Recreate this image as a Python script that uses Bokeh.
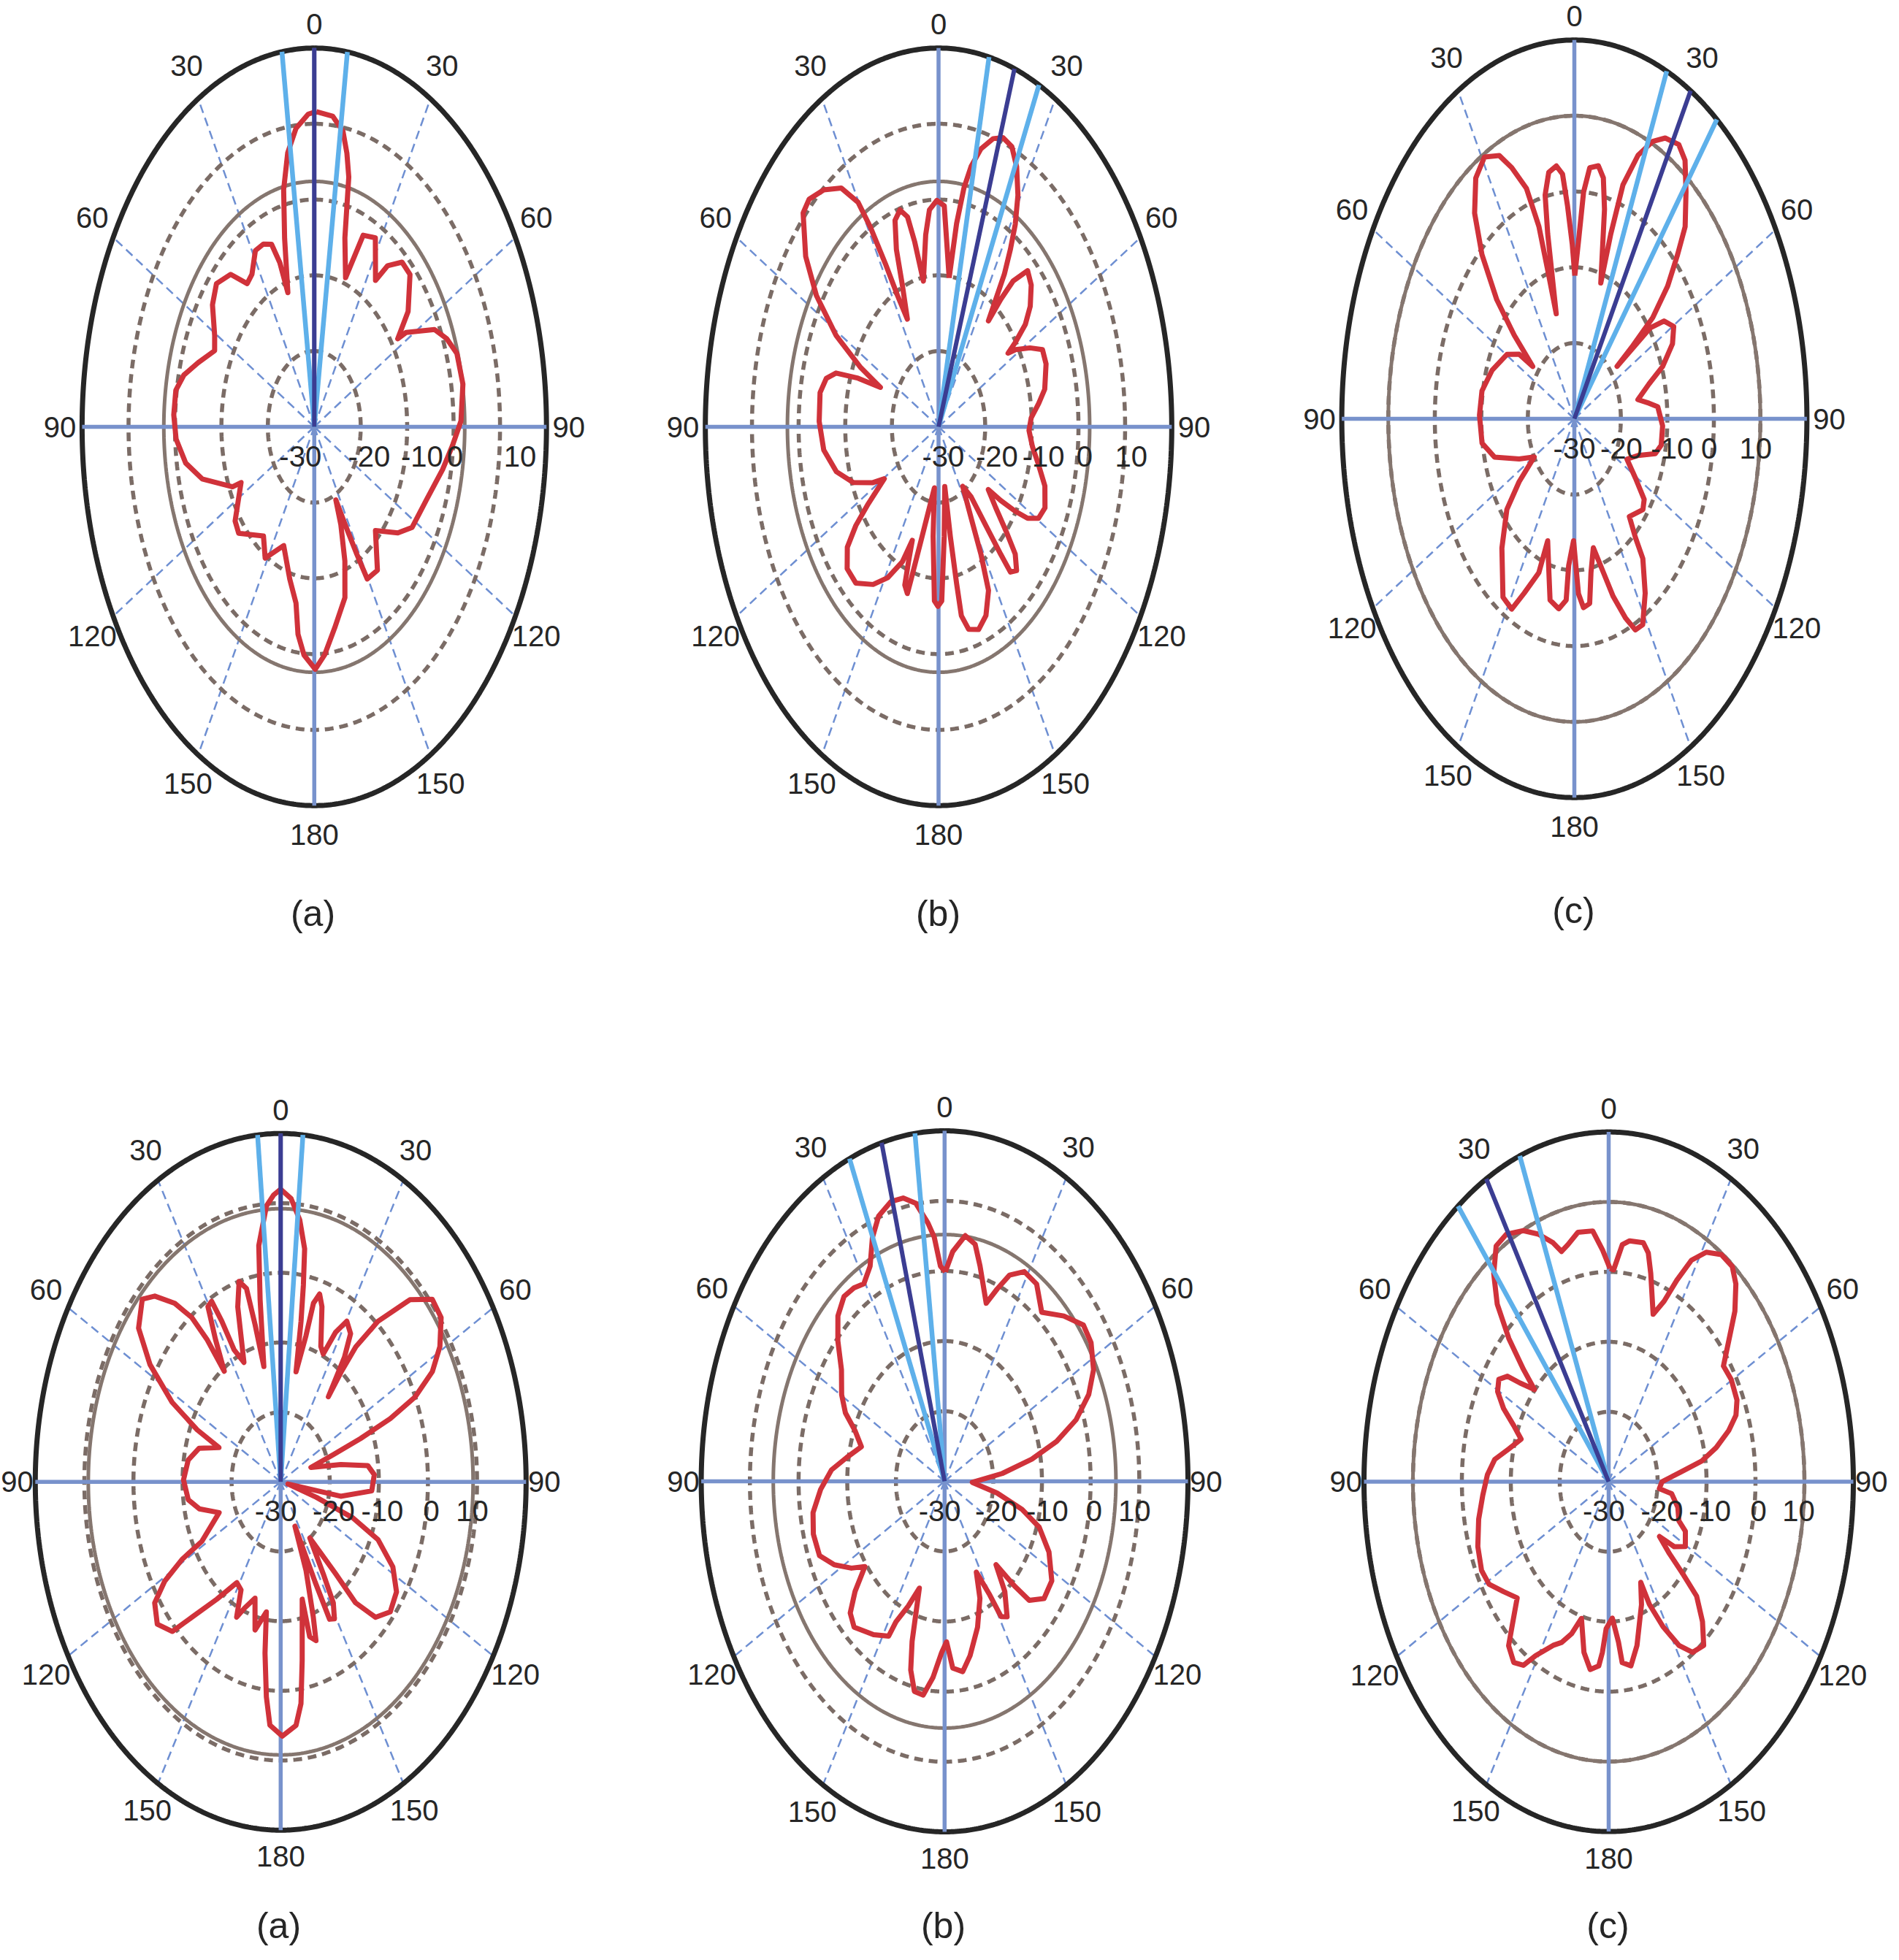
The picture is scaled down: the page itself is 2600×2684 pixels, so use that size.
import numpy as np
from bokeh.plotting import figure
from bokeh.layouts import column, row
from bokeh.models import Range1d
from bokeh.embed import file_html
from bokeh.resources import INLINE
from bokeh.core.properties import value

# ---------------- data (angle in degrees clockwise from top, level in dB) ----------------
a1_theta = [0.6, 5.5, 9.0, 11.0, 12.7, 13.6, 14.8, 18.9, 22.6, 27.8, 34.3, 36.6, 41.0, 45.7, 53.0, 57.1,
            57.8, 63.6, 67.8, 72.5, 80.0, 88.6, 94.6, 101.5, 111.8, 122.2, 127.9, 136.1, 144.3, 150.4,
            151.4, 152.8, 154.3, 156.1, 159.6, 163.7, 170.6, 175.8, 179.6, 184.2, 187.3, 189.6, 194.7,
            202.8, 211.4, 217.2, 229.2, 233.9, 245.0, 245.8, 254.1, 260.2, 266.9, 273.0, 279.2, 283.7,
            288.7, 295.1, 299.3, 306.3, 311.9, 318.2, 322.6, 326.3, 331.4, 335.6, 339.1, 341.1, 342.2,
            345.6, 348.1, 351.0, 354.3, 358.2]
a1_db = [11.6, 11.2, 9.5, 6.8, 3.8, -0.2, -4.2, -9.2, -2.6, -1.8, -6.6, -3.5, -1.2, -1.2, -4.7, -8.6,
         -6.6, -1.1, 0.8, 2.2, 2.5, 1.6, -0.1, -1.8, -4.0, -5.1, -7.2, -11.0, -6.7, -6.9,
         -10.8, -15.6, -19.3, -15.9, -11.1, -6.5, -3.1, 0.2, 2.0, 0.2, -2.4, -6.4, -9.2,
         -13.0, -9.7, -11.9, -8.5, -8.9, -12.6, -10.7, -4.9, -1.9, -0.2, 0.3, 0.2, -1.1,
         -3.6, -6.3, -5.4, -2.8, -1.7, -3.0, -6.2, -5.8, -3.5, -3.5, -4.2, -7.1, -11.4,
         -4.3, 2.0, 6.6, 9.6, 11.3]

b1_theta = [6.6, 8.2, 9.8, 11.5, 13.9, 17.1, 19.9, 23.0, 26.0, 29.1, 31.6, 33.3, 35.0, 36.1, 37.4,
            38.4, 39.7, 42.8, 46.7, 51.0, 54.0, 55.9, 56.9,
            58.3, 62.0, 65.4, 70.2, 77.7, 81.8, 86.6, 91.4,
            97.4, 103.1, 108.9, 115.1, 119.4, 122.3, 124.1, 126.1, 127.8,
            131.0, 133.7, 135.6, 138.6, 141.2, 141.6, 142.1, 142.9, 146.6,
            149.9, 151.6, 153.6, 157.8, 162.2, 166.4, 168.9, 169.4, 170.1, 170.4,
            175.2, 178.3, 180.3, 182.2, 184.6, 186.3,
            193.7, 196.3, 196.9, 199.1, 199.9, 200.6,
            203.5, 208.7, 214.0, 220.7, 226.3, 230.9, 233.7, 236.0, 239.5,
            242.4, 248.1, 254.9, 262.9, 271.6, 280.1, 284.9, 287.9, 290.4, 292.7,
            295.1, 298.8, 303.5, 308.3, 314.2, 317.3, 321.8, 326.5, 329.8, 331.0, 332.1, 333.1, 334.8,
            337.5, 338.9, 341.1, 343.9, 346.5, 348.2, 350.4,
            353.8, 356.1, 359.3, 362.4, 364.1]
b1_db = [-10.2, -2.9, 2.0, 5.1, 7.8, 9.8, 10.6, 10.2, 8.2, 5.0, 1.4, -1.9, -5.4, -9.2, -12.4,
         -8.5, -5.0, -1.9, -2.7, -4.7, -7.0, -10.1, -12.2,
         -10.6, -7.8, -5.5, -5.5, -6.7, -8.3, -10.1, -10.6,
         -9.7, -8.0, -5.9, -4.8, -5.4, -7.4, -10.1, -13.5, -16.5,
         -13.8, -9.8, -6.5, -4.7, -5.4, -8.5, -13.5, -18.4, -20.6,
         -16.0, -10.9, -5.9, -3.1, -1.9, -2.5, -4.6, -9.0, -15.3, -22.0,
         -15.5, -7.0, -6.3, -7.0, -15.5, -21.9,
         -15.1, -9.0, -7.0, -7.9, -11.1, -14.0,
         -10.6, -7.3, -4.9, -2.8, -2.9, -4.8, -8.0, -11.8, -16.5,
         -14.1, -10.3, -7.3, -5.2, -4.4, -4.2, -5.1, -6.9, -11.6, -16.5,
         -11.6, -4.9, 1.4, 6.3, 10.5, 10.9, 9.8, 7.8, 4.3, 0.1, -5.6, -10.6, -14.3,
         -9.7, -4.9, -1.2, -0.2, -1.5, -5.1, -10.5,
         -4.5, -1.3, -0.1, -0.8, -5.5]

c1_theta = [0.3, 2.2, 3.8, 5.7, 8.8, 11.1, 13.2, 17.6,
            17.8, 18.7, 21.5, 24.7, 27.8, 31.8, 34.9, 38.7, 43.2, 45.7, 48.9, 51.6, 52.5, 53.0,
            53.7, 56.2, 60.3, 64.9, 70.0, 74.0, 79.5,
            82.7, 84.9, 92.8, 100.5, 104.8, 109.5, 115.2,
            120.8, 125.3, 129.1, 137.5,
            140.0, 141.4, 146.5, 151.6, 154.8, 157.3, 160.4, 162.9, 166.5,
            170.0, 172.3, 175.5, 177.8, 180.6,
            183.6, 184.2, 187.6, 192.3, 195.1, 199.6,
            200.6, 205.1, 208.2, 213.1, 222.4, 230.5, 235.0, 239.7,
            245.9, 253.6, 260.8, 271.3, 280.5, 290.0, 300.4, 305.7, 307.7,
            310.5, 313.3, 317.5, 321.7, 326.3, 330.8, 335.1, 337.9, 341.3, 343.3, 343.8, 344.3,
            346.8, 348.0, 350.4, 353.4, 355.5, 357.0, 358.9]
c1_db = [-11.1, -6.5, 0.0, 3.3, 3.8, 2.4, -1.6, -11.2,
         -4.4, 2.6, 7.4, 10.3, 11.9, 12.6, 11.6, 8.4, 4.8, 1.0, -3.4, -8.5, -14.1, -18.5,
         -9.7, -6.8, -5.4, -6.7, -9.8, -13.3, -16.1,
         -13.8, -12.0, -11.0, -11.0, -12.0, -15.5, -17.5,
         -14.7, -11.6, -11.0, -12.5,
         -9.6, -6.4, -2.4, 0.9, 0.8, -1.5, -5.1, -8.8, -12.5,
         -9.4, -5.4, -5.0, -6.9, -13.9,
         -10.6, -6.0, -4.7, -5.5, -9.0, -12.9,
         -8.3, -4.6, -1.5, -1.9, -6.9, -11.2, -15.5, -20.0,
         -17.0, -12.1, -9.9, -9.6, -9.8, -11.2, -13.2, -15.4, -18.7,
         -13.0, -7.1, -0.6, 4.6, 8.2, 9.6, 8.3, 5.8, 2.1, -3.5, -10.3, -15.6,
         -4.9, 0.2, 3.0, 3.6, 2.4, -1.8, -7.0]

a2_theta = [0.0, 3.0, 5.9, 8.3, 9.3, 10.2, 11.2,
            13.8, 14.6, 16.4, 18.5, 22.8, 25.3,
            27.5, 30.3, 33.8, 36.0, 38.5,
            38.0, 38.3, 40.7, 45.2, 49.7, 54.2, 59.1, 62.9, 66.0, 67.9, 69.1, 70.0, 71.4,
            78.5, 82.5, 86.9, 94.0, 99.6, 102.0,
            107.0, 109.4, 112.7, 118.1, 123.8, 129.9, 135.2, 138.7, 139.7, 143.6,
            146.7, 148.3, 150.9, 153.2, 154.0, 155.5,
            157.9, 161.1, 162.5, 165.1, 165.4,
            170.3, 172.6, 174.9, 179.5, 183.6, 185.4, 187.4, 188.9,
            193.8, 197.4, 202.0, 204.8, 207.5,
            211.7, 217.7, 222.9, 225.8, 230.9, 235.9, 238.9, 241.0, 242.0, 250.6,
            256.8, 262.2, 270.8, 279.4, 286.2, 291.4,
            293.7, 297.3, 302.3, 307.3, 312.9, 316.1, 319.9, 322.5, 323.7, 324.1,
            327.0, 329.5, 331.5, 332.5, 333.4, 336.4,
            340.8, 343.6, 345.9, 347.0, 348.3,
            350.9, 352.5, 355.8, 358.0]
a2_db = [12.0, 10.7, 7.8, 3.8, -1.4, -6.6, -13.9,
         -8.4, -3.5, -1.9, -3.5, -8.9, -9.7,
         -5.8, -3.3, -4.4, -7.9, -14.4,
         -10.0, -5.3, 0.4, 7.1, 10.5, 10.3, 7.8, 4.7, 0.0, -5.9, -12.6, -18.6, -23.5,
         -17.5, -12.1, -10.9, -11.4, -17.6, -28.5,
         -22.4, -14.4, -8.5, -4.1, -1.6, -0.9, -2.6, -6.9, -12.7, -20.0,
         -14.2, -9.6, -7.5, -7.9, -14.0, -23.0,
         -16.3, -9.5, -6.1, -7.0, -12.6,
         -4.0, 2.1, 5.1, 6.5, 5.0, 1.0, -5.2, -11.1,
         -8.1, -12.5, -10.5, -8.6, -12.5,
         -13.0, -8.7, -3.5, 0.8, 2.4, 1.0, -2.4, -7.0, -11.8, -16.7,
         -13.0, -11.0, -10.2, -10.9, -12.7, -16.5,
         -11.4, -5.1, 1.5, 6.4, 8.5, 7.0, 3.5, -0.3, -4.6, -10.4,
         -5.6, -0.8, -0.5, -4.0, -8.8, -11.3,
         -3.4, 0.0, -1.4, -6.9, -13.1,
         -3.5, 4.2, 9.7, 11.2]

b2_theta = [0.3, 2.9, 6.9, 10.5, 13.3, 18.6, 21.5, 24.4, 28.7, 33.9, 39.6, 46.1, 52.0, 56.7, 62.5,
            67.3, 72.0, 76.1, 80.0, 84.6, 91.5, 98.8, 104.1, 108.6, 115.2, 122.8, 129.3, 134.3,
            136.1, 138.4, 141.8, 146.4, 149.0, 150.2, 153.3, 156.5, 162.0, 168.1, 172.2, 176.4,
            179.0, 181.4, 184.9, 188.2, 191.7, 194.5, 196.3, 198.8, 202.8, 206.5, 207.5, 213.7,
            221.8, 225.9, 229.5, 233.4, 237.1, 242.3, 247.6, 254.4, 260.6, 267.4, 274.0, 279.6,
            286.1, 291.5, 295.6, 300.3, 306.9, 312.4, 317.1, 321.9, 325.9, 329.5, 333.5, 336.9,
            340.3, 344.6, 348.1, 351.5, 354.7, 356.5, 358.4]
b2_db = [-0.1, 2.8, 5.3, 4.4, 1.6, -3.2, -0.5, 2.3, 4.1, 3.9, 1.3, 4.0, 6.2, 6.0, 4.5,
         2.1, -1.6, -6.3, -11.8, -18.1, -24.3, -19.1, -13.6, -9.5, -6.3, -3.8, -3.6, -5.7,
         -9.3, -14.1, -10.0, -6.8, -7.5, -11.3, -15.5, -11.8, -8.1, -4.6, -2.6, -3.3,
         -7.1, -5.6, -1.9, 0.8, 0.6, -2.2, -6.2, -13.9, -10.7, -7.6, -5.1, -3.7,
         -2.1, -3.0, -5.8, -9.6, -7.2, -4.4, -2.2, -2.0, -2.6, -4.5, -6.7, -9.6,
         -12.2, -10.2, -7.4, -5.5, -3.5, -0.3, 2.2, 3.5, 3.3, 2.7, 4.3, 7.8,
         10.2, 11.4, 11.3, 10.1, 7.0, 4.9, 0.7]

c2_theta = [0.5, 1.9, 4.7, 7.1, 11.7, 13.9, 16.1, 20.8, 23.7, 25.8, 28.1, 31.3, 35.3, 39.4, 42.6,
            46.6, 50.8, 54.8, 59.7, 66.0, 69.9, 73.4, 77.5, 81.2, 84.4, 90.0, 95.4, 97.6, 104.5,
            111.3, 114.3, 120.6, 124.7, 127.0, 129.6, 131.0, 132.3, 136.2, 140.3, 144.9, 148.4,
            151.8, 154.6, 155.5, 159.1, 166.1, 170.2, 173.9, 175.0, 177.8, 181.4, 183.0, 184.4,
            188.0, 191.7, 195.9, 199.2, 202.7, 205.9, 211.0, 213.6, 216.9, 221.1, 223.9, 228.4,
            233.8, 239.1, 244.0, 250.9, 258.6, 265.7, 272.3, 277.8, 282.8, 288.8, 292.5, 296.0,
            299.6, 303.1, 306.1, 307.9, 311.0, 312.7, 315.1, 318.1, 321.7, 325.7, 329.4, 334.1,
            337.9, 341.6, 343.7, 346.2, 350.0, 354.8, 357.8]
c2_db = [0.5, 0.3, 4.0, 4.7, 4.9, 3.7, 1.0, -4.4, -1.8, 2.0, 5.9, 8.4, 9.8, 9.8, 8.4,
         5.5, 1.6, -1.3, -1.0, -1.3, -2.3, -4.4, -7.5, -10.8, -15.0, -19.1, -19.6, -17.0, -15.4,
         -14.6, -12.8, -11.8, -13.7, -17.0, -13.9, -9.9, -5.7, -2.3, 0.4, -0.2, -2.5,
         -6.5, -10.6, -14.2, -11.2, -5.9, -3.3, -4.0, -7.0, -10.5, -9.0, -5.6, -3.6,
         -2.9, -5.1, -9.7, -7.0, -5.1, -4.0, -1.0, 1.5, 2.3, 1.1, -1.6, -5.0,
         -3.4, -1.5, -1.1, -1.7, -2.9, -4.2, -5.2, -6.5, -9.0, -11.1, -9.0, -6.1,
         -3.9, -3.2, -4.4, -7.0, -9.9, -6.3, -1.1, 4.1, 7.9, 10.8, 11.1, 9.9,
         8.2, 6.0, 4.3, 4.9, 6.2, 6.0, 3.2]

# beam direction (dark) and beam edges (light), degrees
beam_main = [0.0, 19.0, 30.0, 0.0, -15.0, -30.0]
beam_edges = [[-8.0, 8.2], [12.5, 25.5], [23.4, 37.8], [-5.4, 5.2], [-7.0, -23.0], [-21.3, -38.0]]
# reference (solid grey) ring level, dB
ref_level = [2.4, 2.4, 10.0, 9.2, 5.2, 10.0]

ring_db = [-20, -10, 0, 10]
radial_ticks = ["-30", "-20", "-10", "0", "10"]
angle_ticks = ["0", "30", "60", "90", "120", "150", "180", "150", "120", "90", "60", "30"]
angle_tick_pos = [0, 30, 60, 90, 120, 150, 180, 210, 240, 270, 300, 330]
captions = ["(a)", "(b)", "(c)", "(a)", "(b)", "(c)"]

series = [(a1_theta, a1_db), (b1_theta, b1_db), (c1_theta, c1_db),
          (a2_theta, a2_db), (b2_theta, b2_db), (c2_theta, c2_db)]

# ---------------- layout (page pixels) ----------------
COLS = [(8, 860), (868, 862), (1730, 862)]
ROWS = [(8, 1336), (1344, 1332)]
# centre x, centre y, x radius, y radius of outer ring
GEOM = [(437.8, 592.0, 317.9, 518.7), (1292.5, 592.0, 319.3, 518.7), (2163.0, 581.0, 318.4, 518.7),
        (391.8, 2036.7, 336.0, 477.0), (1300.8, 2036.0, 333.2, 480.0), (2210.0, 2036.6, 335.0, 479.0)]
CAPTION_POS = [(436, 1258), (1292, 1258), (2162, 1254), (389, 2644), (1299, 2644), (2209, 2644)]
RLAB_STEPS = [[-0.3, 1.18, 2.32, 3.03, 4.43], [0.1, 1.25, 2.25, 3.13, 4.13], [0.0, 1.01, 2.1, 2.9, 3.9],
              [-0.1, 1.08, 2.07, 3.07, 3.9], [-0.1, 1.06, 2.11, 3.07, 3.9], [-0.1, 1.09, 2.07, 3.06, 3.88]]
# radius (outer ring = 50) of the angle labels, per label, for each row
LABEL_R = [[53.2, 55.0, 55.2, 54.8, 55.2, 54.4, 53.8, 54.4, 55.2, 54.8, 55.2, 55.0],
           [53.4, 55.0, 55.2, 53.7, 55.2, 54.4, 53.8, 54.4, 55.2, 53.7, 55.2, 55.0]]

RMAX = 50.0  # -30 dB at centre, +20 dB at outer ring
FONT = value("Liberation Sans")
TXT = "#262626"


def to_xy(theta_deg, level_db):
    r = np.asarray(level_db, dtype=float) + 30.0
    t = np.radians(np.asarray(theta_deg, dtype=float))
    return r * np.sin(t), r * np.cos(t)


def panel(i):
    col = i % 3
    rw = i // 3
    fx0, fw = COLS[col]
    fy0, fh = ROWS[rw]
    cx, cy, Rx, Ry = GEOM[i]
    sx, sy = Rx / RMAX, Ry / RMAX
    p = figure(width=fw, height=fh,
               x_range=Range1d((fx0 - cx) / sx, (fx0 + fw - cx) / sx),
               y_range=Range1d((cy - fy0 - fh) / sy, (cy - fy0) / sy),
               output_backend="svg", toolbar_location=None, x_axis_type=None, y_axis_type=None,
               min_border=0, outline_line_color=None, title=None,
               background_fill_color="white", border_fill_color="white")
    p.grid.visible = False

    tt = np.linspace(0, 2 * np.pi, 721)
    # dashed spokes
    xs, ys = [], []
    for a in [30, 60, 120, 150, 210, 240, 300, 330]:
        x, y = to_xy([a, a], [-30, 20])
        xs.append(list(x)); ys.append(list(y))
    p.multi_line(xs, ys, line_color="#6e8fd2", line_width=2.5, line_dash="12 7")
    # dashed rings
    xs, ys = [], []
    for d in ring_db:
        xs.append(list((d + 30) * np.sin(tt))); ys.append(list((d + 30) * np.cos(tt)))
    p.multi_line(xs, ys, line_color="#7b6c66", line_width=5.5, line_dash="12 8")
    # reference ring
    r0 = ref_level[i] + 30
    p.line(r0 * np.sin(tt), r0 * np.cos(tt), line_color="#85766f", line_width=5)
    # outer ring
    p.line(RMAX * np.sin(tt), RMAX * np.cos(tt), line_color="#262626", line_width=7)
    # main axes
    xs, ys = [], []
    for a in [0, 90]:
        x, y = to_xy([a, a + 180], [20, 20])
        xs.append(list(x)); ys.append(list(y))
    p.multi_line(xs, ys, line_color="#7892cc", line_width=5.5)
    # pattern
    th, db = series[i]
    x, y = to_xy(list(th) + [th[0]], list(db) + [db[0]])
    p.line(x, y, line_color="#d0323a", line_width=7, line_join="round")
    # beam lines
    xs, ys = [], []
    for a in beam_edges[i]:
        bx, by = to_xy([a, a], [-30, 20])
        xs.append(list(bx)); ys.append(list(by))
    p.multi_line(xs, ys, line_color="#5eb0ea", line_width=6.5)
    bx, by = to_xy([beam_main[i]] * 2, [-30, 20])
    p.line(bx, by, line_color="#3b3d92", line_width=6)

    # angle labels
    lr = np.array(LABEL_R[rw])
    t = np.radians(angle_tick_pos)
    p.text(x=list(lr * np.sin(t)), y=list(lr * np.cos(t)), text=angle_ticks,
           text_font=FONT, text_font_size=value("40px"), text_color=TXT,
           text_align="center", text_baseline="middle")
    # radial labels
    rx = [s * 10 for s in RLAB_STEPS[i]]
    p.text(x=rx, y=[-40.0 / sy] * len(rx), text=radial_ticks,
           text_font=FONT, text_font_size=value("40px"), text_color=TXT,
           text_align="center", text_baseline="middle")
    # caption
    px, py = CAPTION_POS[i]
    p.text(x=[(px - cx) / sx], y=[(cy - py) / sy], text=[captions[i]],
           text_font=FONT, text_font_size=value("50px"), text_color=TXT,
           text_align="center", text_baseline="middle")
    return p


figs = [panel(i) for i in range(6)]
layout = column(row(figs[0], figs[1], figs[2]), row(figs[3], figs[4], figs[5]))

open("out.html", "w").write(file_html(layout, INLINE))
